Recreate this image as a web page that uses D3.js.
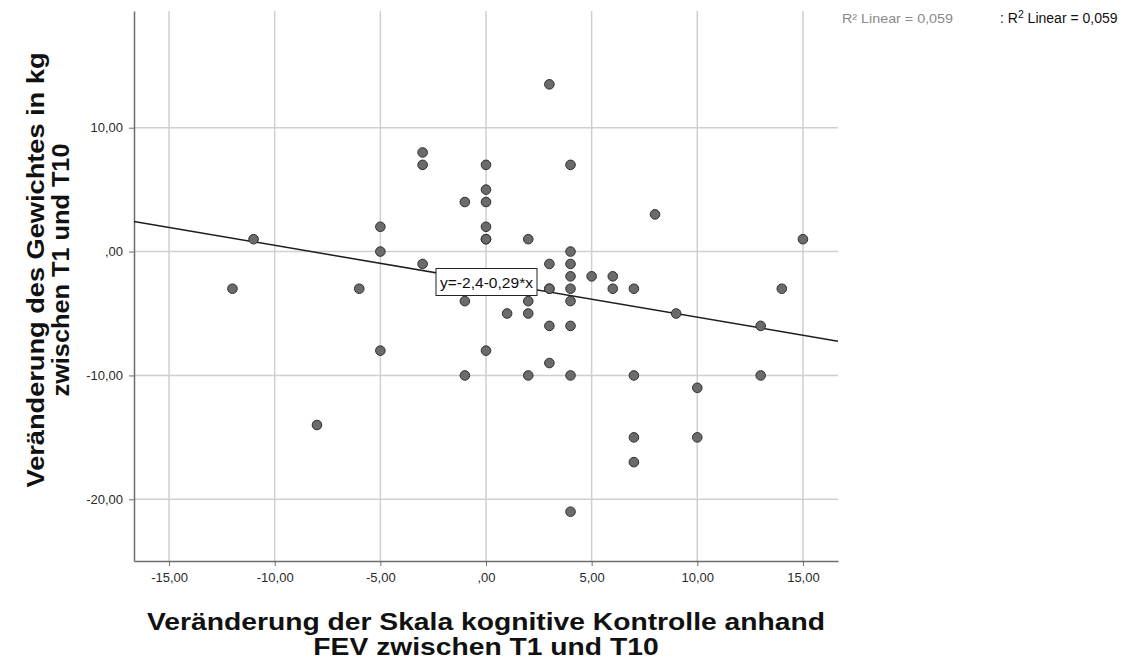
<!DOCTYPE html>
<html>
<head>
<meta charset="utf-8">
<script src="https://cdn.jsdelivr.net/npm/d3@7"></script>
<style>
  html, body { margin: 0; padding: 0; background: #fff; }
  svg { display: block; font-family: "Liberation Sans", Arial, sans-serif; }
</style>
</head>
<body>
<svg id="chart" width="1126" height="661"></svg>
<script>
// Change in the FEV cognitive-control scale (T1 -> T10)
const kontrolleDiff = [
  -12, -11, -8, -6, -5, -5, -5, -3, -3, -3,
  -1, -1, -1, 0, 0, 0, 0, 0, 0, 0,
  1, 2, 2, 2, 2, 3, 3, 3, 3, 3,
  3, 4, 4, 4, 4, 4, 4, 4, 4, 4,
  5, 6, 6, 7, 7, 7, 7, 8, 9, 10,
  10, 13, 13, 14, 15
];
// Change in body weight in kg (T1 -> T10)
const gewichtDiff = [
  -3, 1, -14, -3, 2, 0, -8, 8, 7, -1,
  4, -4, -10, 7, 5, 4, 2, 1, 1, -8,
  -5, 1, -4, -5, -10, 13.5, -1, -3, -6, -9,
  -3, 7, 0, -1, -2, -3, -4, -6, -10, -21,
  -2, -2, -3, -3, -10, -15, -17, 3, -5, -11,
  -15, -6, -10, -3, 1
];

// Linear fit as reported: y = -2,4 - 0,29*x
const fitIntercept = -2.4;
const fitSlope = -0.29;
const fitLabel = "y=-2,4-0,29*x";
const r2Text = "0,059";

const xTicks = [-15, -10, -5, 0, 5, 10, 15];
const yTicks = [-20, -10, 0, 10];
const xTitle = ["Veränderung der Skala kognitive Kontrolle anhand", "FEV zwischen T1 und T10"];
const yTitle = ["Veränderung des Gewichtes in kg", "zwischen T1 und T10"];

const fmt = v => {
  const s = d3.format(".2f")(Math.abs(v)).replace(".", ",");
  const t = s.startsWith("0,") ? s.slice(1) : s;
  return (v < 0 ? "-" : "") + t;
};

const svg = d3.select("#chart");
const m = { left: 134, top: 11, width: 704, height: 550 };

const x = d3.scaleLinear().domain([-16.66, 16.66]).range([m.left, m.left + m.width]);
const y = d3.scaleLinear().domain([-24.98, 19.42]).range([m.top + m.height, m.top]);

// Grid lines
const grid = svg.append("g").attr("stroke", "#cfcfcf").attr("stroke-width", 1.5);
grid.selectAll("line.vx").data(xTicks).join("line")
  .attr("x1", d => x(d)).attr("x2", d => x(d))
  .attr("y1", m.top).attr("y2", m.top + m.height);
grid.selectAll("line.hy").data(yTicks).join("line")
  .attr("x1", m.left).attr("x2", m.left + m.width)
  .attr("y1", d => y(d)).attr("y2", d => y(d));

// Axes
const xAxis = svg.append("g")
  .attr("transform", `translate(0,${m.top + m.height})`)
  .call(d3.axisBottom(x).tickValues(xTicks).tickFormat(fmt).tickSize(5).tickSizeOuter(0));
const yAxis = svg.append("g")
  .attr("transform", `translate(${m.left},0)`)
  .call(d3.axisLeft(y).tickValues(yTicks).tickFormat(fmt).tickSize(5).tickSizeOuter(0));

[xAxis, yAxis].forEach(a => {
  a.select(".domain").attr("stroke", "#6e6e6e").attr("stroke-width", 1.5);
  a.selectAll(".tick line").attr("stroke", "#6e6e6e");
  a.selectAll(".tick text").attr("fill", "#2a2a2a")
    .style("font-family", "'Liberation Sans', Arial, sans-serif").style("font-size", "13px");
});
xAxis.selectAll(".tick text").attr("dy", "0.71em").attr("y", 12);
yAxis.selectAll(".tick text").attr("x", -11);

// Fit line across the full x range
const [x0, x1] = x.domain();
svg.append("line")
  .attr("x1", x(x0)).attr("y1", y(fitIntercept + fitSlope * x0))
  .attr("x2", x(x1)).attr("y2", y(fitIntercept + fitSlope * x1))
  .attr("stroke", "#1e1e1e").attr("stroke-width", 1.5);

// Data points
svg.append("g").selectAll("circle")
  .data(kontrolleDiff.map((d, i) => [d, gewichtDiff[i]]))
  .join("circle")
  .attr("cx", d => x(d[0])).attr("cy", d => y(d[1]))
  .attr("r", 4.8)
  .attr("fill", "#6b6b6b").attr("stroke", "#2f2f2f").attr("stroke-width", 1);

// Equation label box
const lab = svg.append("g");
lab.append("rect")
  .attr("x", 436).attr("y", 268.5)
  .attr("width", 101).attr("height", 27)
  .attr("fill", "#fff").attr("stroke", "#222").attr("stroke-width", 1);
lab.append("text")
  .attr("x", 440).attr("y", 288)
  .attr("font-size", 15).attr("fill", "#111")
  .attr("textLength", 93).attr("lengthAdjust", "spacingAndGlyphs")
  .text(fitLabel);

// R² annotations
svg.append("text").attr("x", 842).attr("y", 23).attr("font-size", 12.5).attr("fill", "#8a8a8a")
  .attr("textLength", 111).attr("lengthAdjust", "spacingAndGlyphs")
  .text("R² Linear = " + r2Text);

const r2 = svg.append("text").attr("x", 1000).attr("y", 23).attr("font-size", 14).attr("fill", "#111");
r2.append("tspan").text(": R");
r2.append("tspan").attr("font-size", 10.5).attr("dy", -5).text("2");
r2.append("tspan").attr("dy", 5).text(" Linear = " + r2Text);

// Axis titles: bold, slightly widened glyphs
const xT = svg.append("g").selectAll("text").data(xTitle).join("text")
  .attr("x", x(0)).attr("y", (d, i) => 630 + i * 25)
  .attr("text-anchor", "middle")
  .attr("font-size", 24).attr("font-weight", "bold").attr("fill", "#111")
  .text(d => d);
const xStretch = 678 / xT.nodes()[0].getComputedTextLength();
xT.each(function () {
  d3.select(this)
    .attr("textLength", this.getComputedTextLength() * xStretch)
    .attr("lengthAdjust", "spacingAndGlyphs");
});

const yTitleLen = [435, 253];
svg.append("g").attr("transform", "translate(0,270) rotate(-90)")
  .selectAll("text").data(yTitle).join("text")
  .attr("x", 0).attr("y", (d, i) => 44 + i * 25)
  .attr("text-anchor", "middle")
  .attr("font-size", 24).attr("font-weight", "bold").attr("fill", "#111")
  .attr("textLength", (d, i) => yTitleLen[i]).attr("lengthAdjust", "spacingAndGlyphs")
  .text(d => d);
</script>
</body>
</html>
